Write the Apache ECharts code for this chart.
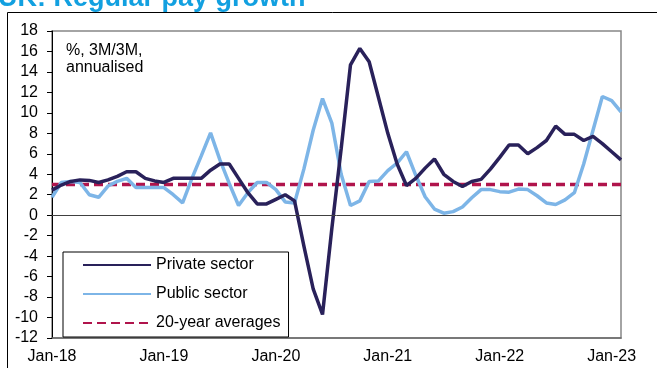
<!DOCTYPE html>
<html>
<head>
<meta charset="utf-8">
<script src="https://cdn.jsdelivr.net/npm/echarts@6/dist/echarts.min.js"></script>
<style>
  html, body { margin: 0; padding: 0; background: #fff; }
  #chart { width: 657px; height: 368px; }
</style>
</head>
<body>
<div id="chart"></div>
<script>
// Monthly observations, Jan-18 to Feb-23
const months = ['Jan','Feb','Mar','Apr','May','Jun','Jul','Aug','Sep','Oct','Nov','Dec'];
const categories = [];
for (let y = 18; y <= 23; y++) {
  for (let m = 0; m < 12; m++) {
    if (y === 23 && m > 1) break;
    categories.push(months[m] + '-' + y);
  }
}

// Regular pay growth, %, 3M/3M annualised
const privateSector = [
  2.45, 2.95, 3.3, 3.45, 3.4, 3.2, 3.45, 3.8, 4.25, 4.25, 3.6, 3.35,
  3.2, 3.6, 3.6, 3.6, 3.6, 4.4, 5.0, 5.0, 3.6, 2.2, 1.1, 1.1,
  1.55, 2.0, 1.4, -3.0, -7.2, -9.7, -1.3, 6.5, 14.7, 16.3, 15.0, 11.5,
  8.0, 5.0, 2.9, 3.6, 4.6, 5.5, 4.0, 3.3, 2.8, 3.3, 3.5, 4.5,
  5.65, 6.86, 6.86, 6.0, 6.6, 7.3, 8.7, 7.9, 7.9, 7.3, 7.7, 7.0,
  6.2, 5.4
];
const publicSector = [
  1.75, 3.2, 3.3, 3.2, 2.0, 1.75, 2.85, 3.3, 3.6, 2.7, 2.7, 2.7,
  2.7, 2.0, 1.2, 3.6, 5.8, 8.05, 5.4, 3.1, 0.95, 2.2, 3.2, 3.2,
  2.5, 1.3, 1.2, 4.5, 8.3, 11.4, 9.0, 4.0, 0.95, 1.4, 3.3, 3.35,
  4.35, 5.1, 6.2, 3.9, 1.8, 0.6, 0.2, 0.35, 0.8, 1.7, 2.5, 2.5,
  2.3, 2.25, 2.55, 2.5, 1.9, 1.2, 1.05, 1.5, 2.2, 5.0, 8.3, 11.6,
  11.2, 10.1
];
const avg20y = 3.0;
const averages = categories.map(() => avg20y);

const yTicks = { min: -12, max: 18, interval: 2 };

const FONT = 'Liberation Sans, Arial, sans-serif';

const chart = echarts.init(document.getElementById('chart'), null, { renderer: 'canvas' });

chart.setOption({
  animation: false,
  backgroundColor: '#fff',
  textStyle: { fontFamily: FONT },
  grid: {
    left: 52, top: 31, right: 36, bottom: 30,
    show: true, borderColor: '#868686', borderWidth: 1.5, backgroundColor: '#fff'
  },
  xAxis: {
    type: 'category',
    data: categories,
    boundaryGap: false,
    axisLine: { show: true, onZero: false, lineStyle: { color: '#6a6a6a', width: 1.5 } },
    axisTick: { show: false },
    axisLabel: {
      interval: 11, margin: 11,
      color: '#000', fontSize: 16, fontFamily: FONT
    },
    splitLine: { show: false }
  },
  yAxis: {
    type: 'value',
    min: yTicks.min, max: yTicks.max, interval: yTicks.interval,
    axisLine: { show: true, lineStyle: { color: '#000', width: 1 } },
    axisTick: { show: true, inside: false, length: 5, lineStyle: { color: '#000' } },
    axisLabel: { margin: 14, color: '#000', fontSize: 16, fontFamily: FONT },
    splitLine: { show: false }
  },
  legend: {
    orient: 'vertical',
    left: 63, top: 252,
    padding: [5, 8, 6, 19],
    itemWidth: 68, itemHeight: 14, itemGap: 13,
    backgroundColor: '#fff',
    borderColor: '#000', borderWidth: 1, borderRadius: 0,
    itemStyle: { opacity: 0 },
    textStyle: { color: '#000', fontSize: 16, fontFamily: FONT },
    data: ['Private sector', 'Public sector', '20-year averages']
  },
  graphic: [
    {
      type: 'text', left: -2, top: -15, silent: true,
      style: { text: 'UK: Regular pay growth', fill: '#12a0e0',
        font: 'bold 27px ' + FONT }
    },
    {
      type: 'text', left: 66, top: 42, silent: true,
      style: { text: '%, 3M/3M,\nannualised', fill: '#000',
        font: '16px ' + FONT, lineHeight: 17 }
    },
    {
      type: 'line', silent: true,
      shape: { x1: 7.5, y1: 12.5, x2: 657, y2: 12.5 },
      style: { stroke: '#000', lineWidth: 1 }
    },
    {
      type: 'line', silent: true,
      shape: { x1: 7.5, y1: 12.5, x2: 7.5, y2: 368 },
      style: { stroke: '#000', lineWidth: 1 }
    }
  ],
  series: [
    {
      name: '20-year averages',
      type: 'line',
      data: averages,
      symbol: 'none',
      z: 1,
      lineStyle: { color: '#b0144c', width: 3.5, type: [9, 5] },
      itemStyle: { color: '#b0144c' },
      markLine: {
        silent: true, symbol: 'none', label: { show: false },
        lineStyle: { color: '#404040', width: 1, type: 'solid' },
        data: [{ yAxis: 0 }]
      }
    },
    {
      name: 'Public sector',
      type: 'line',
      data: publicSector,
      symbol: 'none',
      z: 2,
      lineStyle: { color: '#7db5e7', width: 3.5 },
      itemStyle: { color: '#7db5e7' }
    },
    {
      name: 'Private sector',
      type: 'line',
      data: privateSector,
      symbol: 'none',
      z: 3,
      lineStyle: { color: '#29215a', width: 3.5 },
      itemStyle: { color: '#29215a' }
    }
  ]
});
</script>
</body>
</html>
